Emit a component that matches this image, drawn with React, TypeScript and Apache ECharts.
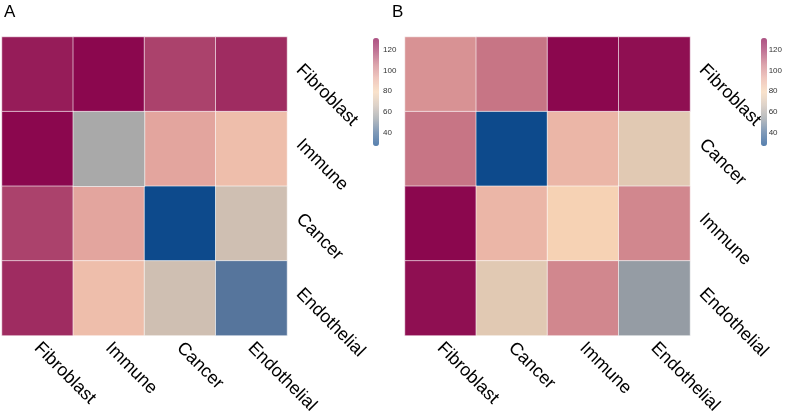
import React, { useEffect, useRef } from "react";
import * as echarts from "echarts";

const catsA = ["Fibroblast", "Immune", "Cancer", "Endothelial"];
const catsB = ["Fibroblast", "Cancer", "Immune", "Endothelial"];

// rows top -> bottom, columns left -> right; null = NA
const valuesA: (number | null)[][] = [
  [126, 131, 117, 122],
  [131, null, 95, 87],
  [117, 95, 27, 66],
  [122, 87, 66, 42],
];
const valuesB: (number | null)[][] = [
  [100, 107, 131, 129],
  [107, 27, 90, 72],
  [131, 90, 80, 103],
  [129, 72, 103, 53],
];

const scaleMin = 27;
const scaleMax = 131;
const barTicks = [40, 60, 80, 100, 120];
const naColor = "#a9a9a9";
const ramp = [
  "#0d4a8c",
  "#4a6e9a",
  "#959ca4",
  "#cfbfb2",
  "#f7d5b5",
  "#e9b0a4",
  "#cd7f8a",
  "#a83d6a",
  "#8b074e",
];

function blend(hex: string, a: number) {
  const n = parseInt(hex.slice(1), 16);
  const c = [(n >> 16) & 255, (n >> 8) & 255, n & 255].map((v) =>
    Math.round(v * a + 255 * (1 - a))
  );
  return "#" + c.map((v) => v.toString(16).padStart(2, "0")).join("");
}
const rampLight = ramp.map((c) => blend(c, 0.7));

function cells(m: (number | null)[][], na: boolean) {
  const out: any[] = [];
  m.forEach((row, r) =>
    row.forEach((v, c) => {
      if (na ? v === null : v !== null) out.push([c, r, na ? 0 : v]);
    })
  );
  return out;
}

const FONT = "'Liberation Sans', Arial, Helvetica, sans-serif";

export default function App() {
  const ref = useRef<HTMLDivElement>(null);
  useEffect(() => {
    const chart = echarts.init(ref.current!, null, { renderer: "svg" });
    const catAxisX = (cats: string[], gi: number) => ({
      type: "category",
      gridIndex: gi,
      data: cats,
      axisLine: { show: false },
      axisTick: { show: false },
      splitLine: { show: false },
      axisLabel: {
        rotate: -45,
        margin: 9,
        fontSize: 18,
        color: "#000",
        fontFamily: FONT,
        interval: 0,
      },
    });
    const catAxisY = (cats: string[], gi: number) => ({
      type: "category",
      gridIndex: gi,
      data: cats,
      inverse: true,
      position: "right",
      axisLine: { show: false },
      axisTick: { show: false },
      splitLine: { show: false },
      axisLabel: {
        rotate: -45,
        margin: 5,
        fontSize: 18,
        lineHeight: 22,
        verticalAlign: "bottom",
        color: "#000",
        fontFamily: FONT,
        interval: 0,
      },
    });
    const barAxisX = (gi: number) => ({
      type: "value",
      gridIndex: gi,
      show: false,
    });
    const barAxisY = (gi: number) => ({
      type: "value",
      gridIndex: gi,
      min: scaleMin,
      max: scaleMax,
      position: "right",
      axisLine: { show: false },
      axisTick: { show: false },
      splitLine: { show: false },
      axisLabel: {
        customValues: barTicks,
        margin: 4,
        fontSize: 8,
        color: "#333",
        fontFamily: FONT,
      },
    });
    const cellStyle = {
      borderColor: "rgba(255,255,255,0.6)",
      borderWidth: 1,
    };
    const vm = (si: number, left: number) => ({
      type: "continuous",
      seriesIndex: si,
      min: scaleMin,
      max: scaleMax,
      calculable: false,
      hoverLink: false,
      left,
      top: 38,
      padding: 0,
      itemWidth: 6,
      itemHeight: 108,
      inRange: { color: ramp },
      controller: { inRange: { color: rampLight } },
    });
    const titleStyle = { fontSize: 17, fontWeight: "normal", color: "#000", fontFamily: FONT };
    chart.setOption({
      animation: false,
      title: [
        { text: "A", left: 4, top: 3, padding: 0, textStyle: titleStyle },
        { text: "B", left: 392, top: 3, padding: 0, textStyle: titleStyle },
      ],
      grid: [
        { left: 2, top: 37, width: 285, height: 301 },
        { left: 405, top: 37, width: 285, height: 301 },
        { left: 373, top: 38, width: 6, height: 108 },
        { left: 761, top: 38, width: 6, height: 108 },
      ],
      xAxis: [catAxisX(catsA, 0), catAxisX(catsB, 1), barAxisX(2), barAxisX(3)],
      yAxis: [catAxisY(catsA, 0), catAxisY(catsB, 1), barAxisY(2), barAxisY(3)],
      visualMap: [
        vm(0, 373),
        vm(2, 761),
        {
          type: "continuous",
          show: false,
          seriesIndex: 1,
          min: 0,
          max: 1,
          inRange: { color: [naColor, naColor] },
        },
      ],
      series: [
        {
          type: "heatmap",
          xAxisIndex: 0,
          yAxisIndex: 0,
          data: cells(valuesA, false),
          itemStyle: cellStyle,
          emphasis: { disabled: true },
        },
        {
          type: "heatmap",
          xAxisIndex: 0,
          yAxisIndex: 0,
          data: cells(valuesA, true),
          itemStyle: cellStyle,
          emphasis: { disabled: true },
        },
        {
          type: "heatmap",
          xAxisIndex: 1,
          yAxisIndex: 1,
          data: cells(valuesB, false),
          itemStyle: cellStyle,
          emphasis: { disabled: true },
        },
        { type: "scatter", xAxisIndex: 2, yAxisIndex: 2, data: [] },
        { type: "scatter", xAxisIndex: 3, yAxisIndex: 3, data: [] },
      ],
    });
    return () => chart.dispose();
  }, []);
  return (
    <div
      ref={ref}
      style={{ position: "fixed", left: 0, top: 0, width: 785, height: 416 }}
    />
  );
}
